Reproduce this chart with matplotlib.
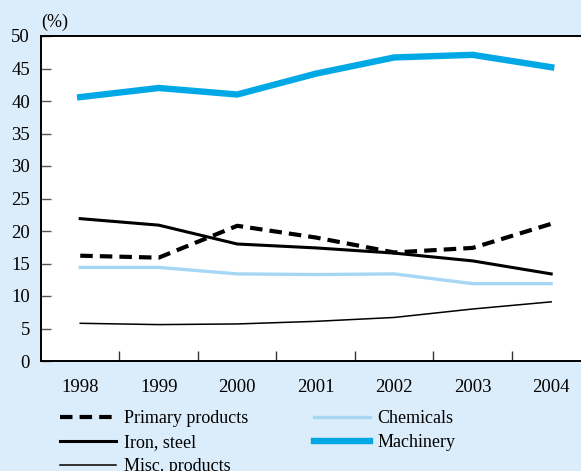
import numpy as np
import matplotlib
matplotlib.use('Agg')
import matplotlib.pyplot as plt
from matplotlib.ticker import FixedLocator

# Data (share of exports, %)
years = ['1998', '1999', '2000', '2001', '2002', '2003', '2004']
primary_products = [16.2, 15.9, 20.8, 19.0, 16.7, 17.4, 21.1]
iron_steel = [21.9, 20.9, 18.0, 17.4, 16.6, 15.4, 13.4]
misc_products = [5.8, 5.6, 5.7, 6.1, 6.7, 8.0, 9.1]
chemicals = [14.4, 14.4, 13.4, 13.3, 13.4, 11.9, 11.9]
machinery = [40.6, 42.0, 41.0, 44.2, 46.7, 47.1, 45.2]

bg = '#dbedfb'
plt.rcParams['font.family'] = ['Liberation Serif', 'DejaVu Serif']

fig = plt.figure(figsize=(5.81, 4.71), dpi=100, facecolor=bg)
ax = fig.add_axes([41 / 581, 110 / 471, 1 - 41 / 581, 325 / 471])
ax.set_facecolor('white')

x = np.arange(len(years))
ax.plot(x, primary_products, color='black', lw=3.0, dashes=(3, 1.7),
        label='Primary products')
ax.plot(x, iron_steel, color='black', lw=2.2, label='Iron, steel')
ax.plot(x, misc_products, color='black', lw=1.1, label='Misc. products')
ax.plot(x, chemicals, color='#a6d8f5', lw=2.4, label='Chemicals')
ax.plot(x, machinery, color='#00a9e6', lw=4.6, label='Machinery')

ax.set_xlim(-0.5, 6.38)
ax.set_ylim(0, 50)
ax.set_yticks(np.arange(0, 51, 5))
ax.set_xticks(x)
ax.set_xticklabels(years)
ax.xaxis.set_minor_locator(FixedLocator(np.arange(0.5, 6, 1)))
ax.tick_params(axis='x', which='major', length=0, pad=13, labelsize=13.5)
ax.tick_params(axis='x', which='minor', direction='in', length=7,
               width=1, color='#333333')
ax.tick_params(axis='y', direction='in', length=7, width=1,
               color='#555555', pad=8, labelsize=13.5)

ax.spines['right'].set_visible(False)
for s in ['left', 'bottom', 'top']:
    ax.spines[s].set_linewidth(1.4)

ax.text(-0.5, 50.7, '(%)', fontsize=13, ha='left', va='bottom')

fig.legend(loc='upper left', bbox_to_anchor=(44 / 581, 1 - 394 / 471),
           ncol=2, frameon=False, fontsize=13, handlelength=3.1,
           handletextpad=0.45, columnspacing=3.6, labelspacing=0.38)

fig.savefig('out.png', dpi=100, facecolor=bg)
